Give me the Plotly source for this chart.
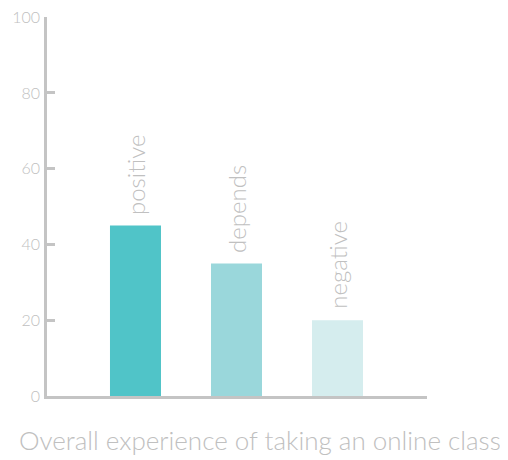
import plotly.graph_objects as go

categories = ["positive", "depends", "negative"]
values = [45, 35, 20]
colors = ["#50c4c8", "#9ad7db", "#d5edee"]
y_ticks = [0, 20, 40, 60, 80, 100]
title_text = "Overall experience of taking an online class"

FONT = "Lato, 'Open Sans', 'Liberation Sans', sans-serif"
GRAY = "#c0c0c0"
AXIS = "#c4c4c4"

x_pos = list(range(len(categories)))

fig = go.Figure()
fig.add_trace(go.Bar(
    x=x_pos, y=values, width=0.505,
    marker=dict(color=colors, line=dict(width=0)),
    hoverinfo="skip",
))

annotations = [
    dict(x=xp, y=v, xref="x", yref="y", text=c, textangle=-90,
         xanchor="center", yanchor="bottom", yshift=9, showarrow=False,
         font=dict(family=FONT, size=24, color=GRAY, weight=300))
    for xp, v, c in zip(x_pos, values, categories)
]
annotations.append(dict(
    text=title_text, xref="paper", yref="paper",
    x=0.5605, y=-0.116, xanchor="center", yanchor="middle",
    showarrow=False,
    font=dict(family=FONT, size=26, color=GRAY, weight=300),
))

fig.update_layout(
    width=500, height=452,
    margin=dict(l=39, r=81, t=9, b=64, autoexpand=False),
    paper_bgcolor="white", plot_bgcolor="white",
    showlegend=False,
    xaxis=dict(
        range=[-0.876, 2.886], showgrid=False, zeroline=False, automargin=False,
        showline=True, linecolor=AXIS, linewidth=2.5,
        tickvals=[2.882], ticks="inside", ticklen=6, tickwidth=2.5, tickcolor=AXIS,
        showticklabels=False, fixedrange=True,
    ),
    yaxis=dict(
        range=[0, 100.05], tickvals=y_ticks, showgrid=False, zeroline=False, automargin=False,
        showline=True, linecolor=AXIS, linewidth=2.5,
        ticks="inside", ticklen=8, tickwidth=2.5, tickcolor=AXIS,
        tickfont=dict(family=FONT, size=16, color=GRAY, weight=300),
        ticklabelstandoff=1, ticklabeloverflow="allow",
    ),
    annotations=annotations,
)

fig.write_html("out.html")
